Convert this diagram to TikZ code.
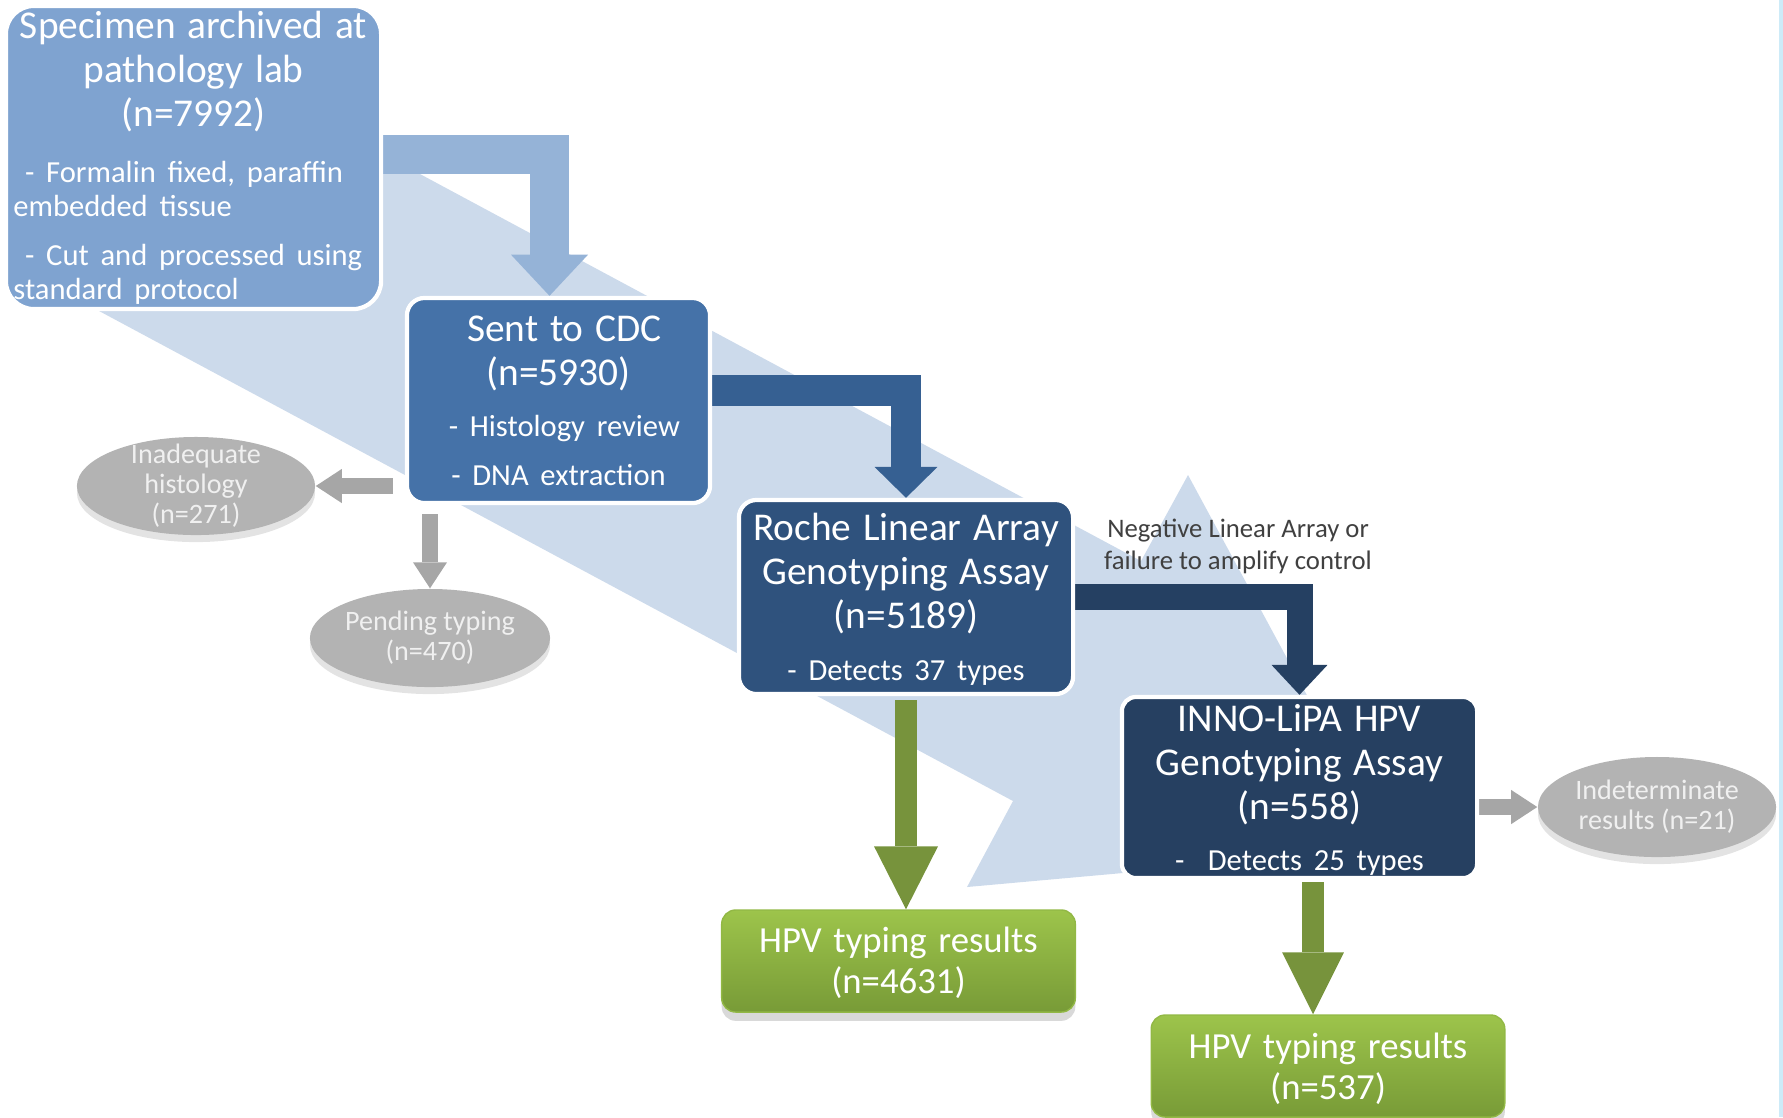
\documentclass[tikz,border=0pt]{standalone}
\usepackage{fontspec}
\setmainfont{Carlito}
\usetikzlibrary{shapes.geometric,arrows.meta,shadows,backgrounds,calc}

\definecolor{specblue}{HTML}{7FA3D0}
\definecolor{cdcblue}{HTML}{4572A8}
\definecolor{rocheblue}{HTML}{2F527D}
\definecolor{lipablue}{HTML}{264061}
\definecolor{bandblue}{HTML}{CCDAEB}
\definecolor{linkpale}{HTML}{95B3D7}
\definecolor{linkmid}{HTML}{366092}
\definecolor{linkdark}{HTML}{254062}
\definecolor{linkgreen}{HTML}{77933C}
\definecolor{greentop}{HTML}{9DC44B}
\definecolor{greenbot}{HTML}{789B37}
\definecolor{ovalgray}{HTML}{B3B3B3}
\definecolor{linkgray}{HTML}{A6A6A6}
\definecolor{notegray}{HTML}{404040}
\definecolor{edgecyan}{HTML}{CDEBF8}

\newcommand{\boxtitle}{\fontsize{11.2}{12.5}\selectfont}
\newcommand{\boxitem}{\fontsize{8.7}{13.7}\selectfont}
\newcommand{\specitem}{\fontsize{8.7}{9.7}\selectfont}
\newcommand{\resulttext}{\fontsize{10.45}{11.7}\selectfont}
\newcommand{\ovaltext}{\fontsize{8}{8.5}\selectfont}
\newcommand{\notetext}{\fontsize{7.6}{9.1}\selectfont}
\newcommand{\lowerby}[1]{\par\vspace{-#1}\nointerlineskip\hbox{}}

\tikzset{
  stagebox/.style={draw=white, line width=1.2pt, rounded corners=5pt, text=white,
    inner xsep=1.8pt, inner ysep=0pt, align=center},
  resultbox/.style={rounded corners=4pt, top color=greentop, bottom color=greenbot,
    draw=greentop!70!greenbot, text=white, inner ysep=0pt, align=center,
    drop shadow={shadow xshift=0pt, shadow yshift=-2.5pt, opacity=0.3}},
  dropoval/.style={ellipse, fill=ovalgray, inner sep=0pt,
    drop shadow={shadow xshift=0pt, shadow yshift=-2pt, opacity=0.22}},
  ovallabel/.style={text=white!94!black, align=center, font=\ovaltext},
}

\begin{document}
\begin{tikzpicture}[x=0.01cm, y=-0.01cm]
\useasboundingbox (0,0) rectangle (1783,1117);

\node[stagebox, fill=specblue, rounded corners=8pt, minimum width=3.75cm, minimum height=3.03cm,
  text width=3.6cm, align=left] (spec) at (193.5,157.5)
  {{\centering\boxtitle Specimen archived at\\pathology lab\\(n=7992)\par}\vspace{6.4pt}
   {\specitem\ - Formalin fixed, paraffin\\embedded tissue\par\vspace{4pt}\ - Cut and processed using\\standard protocol\par}};
\node[stagebox, fill=cdcblue, minimum width=3.03cm, minimum height=2.05cm, text width=2.9cm] (cdc) at (558.5,400.5)
  {{\boxtitle \ Sent to CDC\\(n=5930)\par}\vspace{1pt}{\boxitem \ - Histology review\par - DNA extraction\par}};
\node[stagebox, fill=rocheblue, minimum width=3.34cm, minimum height=1.94cm, text width=3.2cm] (roche) at (906,597)
  {{\boxtitle Roche Linear Array\\Genotyping Assay\\(n=5189)\par}\vspace{1pt}{\boxitem - Detects 37 types\par}\lowerby{1.3pt}};
\node[stagebox, fill=lipablue, rounded corners=4pt, minimum width=3.55cm, minimum height=1.81cm, text width=3.4cm] (lipa) at (1299.5,787.5)
  {{\boxtitle INNO-LiPA HPV\\Genotyping Assay\\(n=558)\par}\vspace{1pt}{\boxitem -\ \ Detects 25 types\par}\lowerby{1.3pt}};

\node[resultbox, minimum width=3.49cm, minimum height=1.02cm, text width=3.3cm] (res1) at (898.5,961)
  {\resulttext HPV typing results\\(n=4631)\lowerby{1.2pt}};
\node[resultbox, minimum width=3.5cm, minimum height=1.02cm, text width=3.3cm] (res2) at (1328,1066)
  {\resulttext HPV typing results\\(n=537)\lowerby{1.5pt}};

\node[dropoval, minimum width=2.38cm, minimum height=0.98cm,
  label={[ovallabel]center:{Inadequate\\histology\\(n=271)}}] (inad) at (196,486) {};
\node[dropoval, minimum width=2.4cm, minimum height=0.98cm,
  label={[ovallabel]center:{Pending typing\\(n=470)}}] (pend) at (430,638) {};
\node[dropoval, minimum width=2.38cm, minimum height=1cm,
  label={[ovallabel]center:{Indeterminate\\results (n=21)}}] (indet) at (1657,807) {};

\node[text=notegray, font=\notetext, align=center] (note) at (1238,546) {Negative Linear Array or\\failure to amplify control};

\begin{scope}[on background layer]
\fill[bandblue] (45,282) -- (1013,801) -- (967,887) -- (1390,849) -- (1188,475) -- (1141,561) -- (174,42) -- cycle;
\draw[linkpale, line width=11.1pt, -{Triangle[width=21.9pt,length=11.7pt,line width=0pt]}]
  ($(spec.east)+(0,-3)$) -| ($(cdc.north)+(-9,0)$);
\draw[linkmid, line width=8.8pt, -{Triangle[width=17.9pt,length=8.8pt,line width=0pt]}]
  ($(cdc.east)+(0,-10)$) -| (roche.north);
\draw[linkdark, line width=7.4pt, -{Triangle[width=15.9pt,length=8.5pt,line width=0pt]}]
  (roche.east) -| (lipa.north);
\draw[linkgray, line width=4.3pt, -{Triangle[width=9.7pt,length=7.4pt,line width=0pt]}, shorten <=3.4pt]
  (inad.east -| cdc.west) -- (inad.east);
\draw[linkgray, line width=4.3pt, -{Triangle[width=9.7pt,length=7.4pt,line width=0pt]}, shorten <=2.6pt]
  (pend.north |- cdc.south) -- (pend.north);
\draw[linkgray, line width=4.3pt, -{Triangle[width=9.7pt,length=7.4pt,line width=0pt]}]
  (indet.west -| lipa.east) -- (indet.west);
\draw[linkgreen, line width=6.3pt, -{Triangle[width=18.2pt,length=17.9pt,line width=0pt]}, shorten <=1.1pt]
  (roche.south) -- (roche.south |- res1.north);
\coordinate (g2) at ($(lipa.south)+(13.5,0)$);
\draw[linkgreen, line width=6.5pt, -{Triangle[width=17.6pt,length=17.6pt,line width=0pt]}, shorten <=0.6pt]
  (g2) -- (g2 |- res2.north);
\end{scope}

\fill[edgecyan] (1778.5,0) rectangle (1783,1117);
\end{tikzpicture}
\end{document}
